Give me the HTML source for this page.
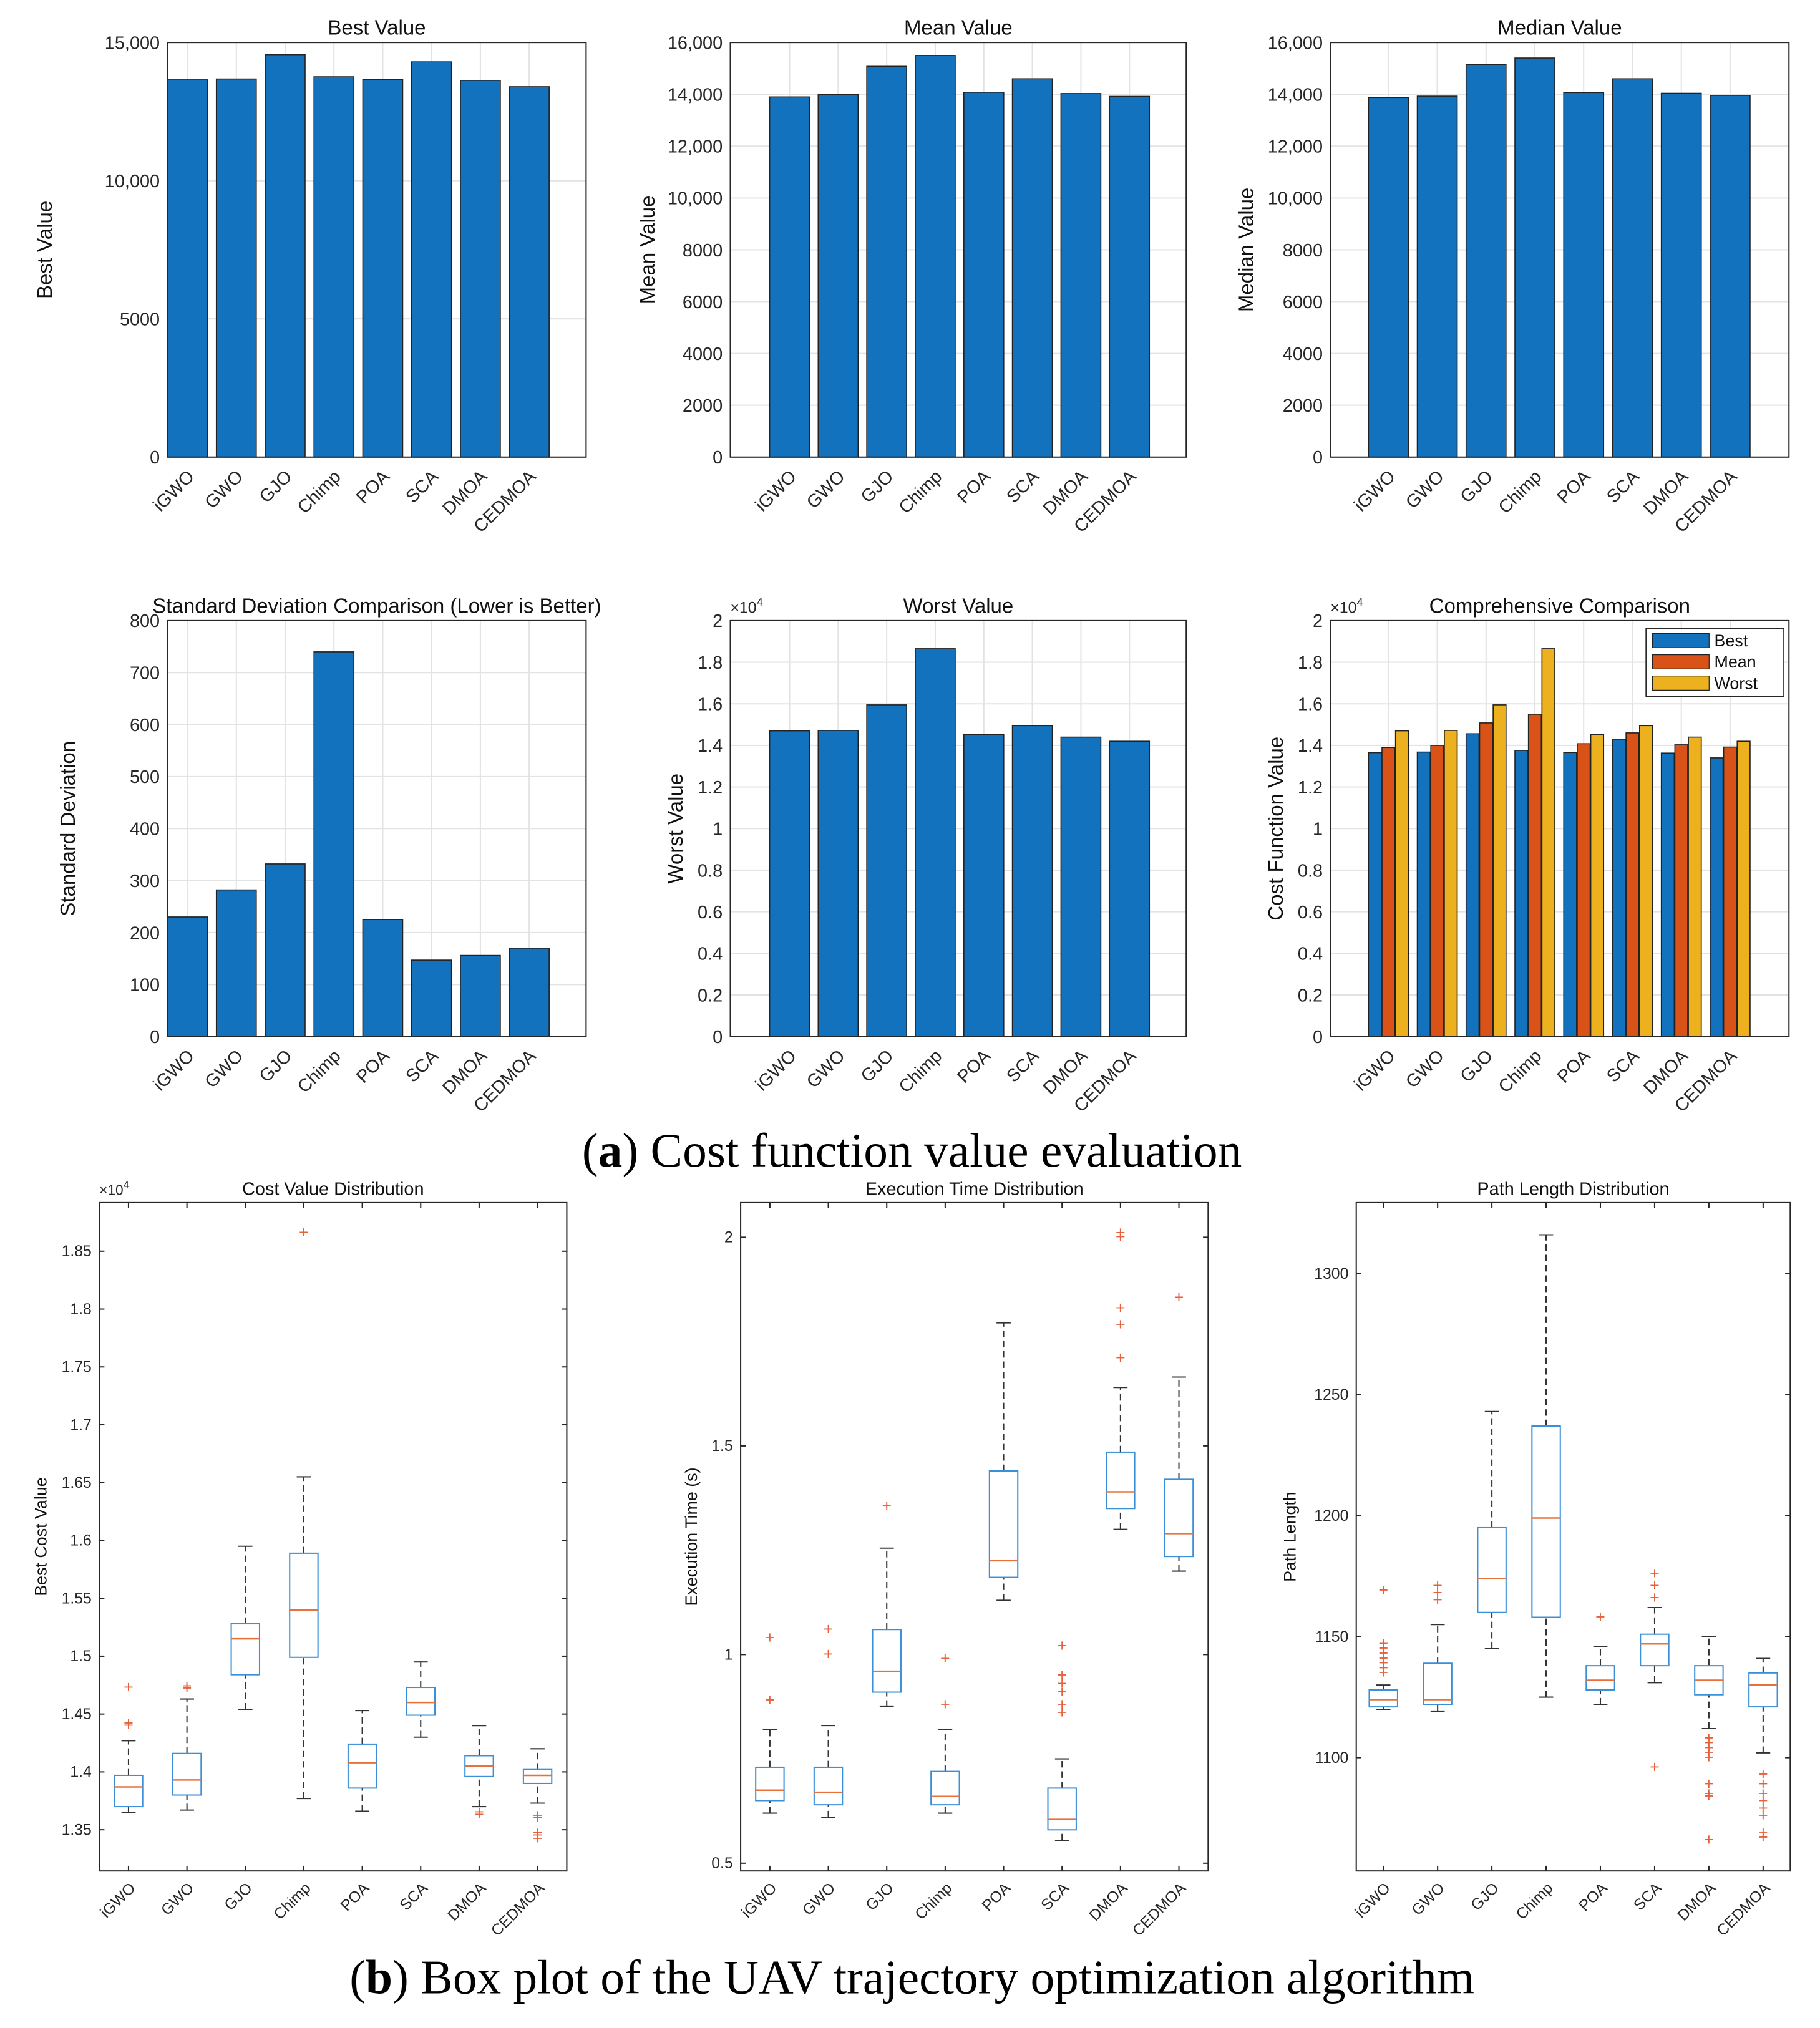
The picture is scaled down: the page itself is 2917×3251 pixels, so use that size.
<!DOCTYPE html>
<html><head><meta charset="utf-8">
<style>
html,body{margin:0;padding:0;background:#fff;}
svg{display:block;font-family:"Liberation Sans",Arial,sans-serif;}
</style></head>
<body>
<svg id="fig" width="2917" height="3251" viewBox="0 0 1413 1575" xmlns="http://www.w3.org/2000/svg">
<rect width="1413" height="1575" fill="#fff"/>
<text x="708" y="906" text-anchor="middle" font-family="Liberation Serif,serif" font-size="37.5">(<tspan font-weight="bold">a</tspan>) Cost function value evaluation</text>
<text x="708" y="1548" text-anchor="middle" font-family="Liberation Serif,serif" font-size="37.5">(<tspan font-weight="bold">b</tspan>) Box plot of the UAV trajectory optimization algorithm</text>
</svg>
<script>
const categories=["iGWO","GWO","GJO","Chimp","POA","SCA","DMOA","CEDMOA"];
const bestVals=[13650,13680,14560,13760,13660,14300,13630,13400];
const meanVals=[13900,14000,15080,15500,14080,14600,14030,13920];
const medianVals=[13880,13930,15150,15400,14070,14600,14040,13960];
const stdVals=[230,282,332,740,225,147,156,170];
const worstVals=[14700,14720,15950,18650,14520,14950,14400,14200];
const bestTicks=["0","5000","10,000","15,000"];
const meanTicks=["0","2000","4000","6000","8000","10,000","12,000","14,000","16,000"];
const stdTicks=["0","100","200","300","400","500","600","700","800"];
const e4Ticks=["0","0.2","0.4","0.6","0.8","1","1.2","1.4","1.6","1.8","2"];
// box stats: [lowWhisker,q1,median,q3,highWhisker]
const costBoxes=[[1.365,1.370,1.387,1.397,1.427],[1.367,1.380,1.393,1.416,1.463],[1.454,1.484,1.515,1.528,1.595],[1.377,1.499,1.540,1.589,1.655],[1.366,1.386,1.408,1.424,1.453],[1.430,1.449,1.460,1.473,1.495],[1.370,1.396,1.405,1.414,1.440],[1.373,1.390,1.397,1.402,1.420]];
const costOut=[[1.473,1.442,1.440],[1.474,1.472],[],[1.866],[],[],[1.365,1.363],[1.362,1.360,1.347,1.345,1.342]];
const costTicks=[1.35,1.4,1.45,1.5,1.55,1.6,1.65,1.7,1.75,1.8,1.85];
const timeBoxes=[[0.62,0.65,0.675,0.73,0.82],[0.61,0.64,0.67,0.73,0.83],[0.875,0.91,0.96,1.06,1.255],[0.62,0.64,0.66,0.72,0.82],[1.13,1.185,1.225,1.44,1.795],[0.555,0.58,0.605,0.68,0.75],[1.3,1.35,1.39,1.485,1.64],[1.2,1.235,1.29,1.42,1.665]];
const timeOut=[[0.89,1.04],[1.0,1.06],[1.355],[0.88,0.99],[],[0.86,0.88,0.91,0.93,0.95,1.02],[1.71,1.79,1.83,2.0,2.01],[1.855]];
const timeTicks=[0.5,1,1.5,2];
const pathBoxes=[[1120,1121,1124,1128,1130],[1119,1122,1124,1139,1155],[1145,1160,1174,1195,1243],[1125,1158,1199,1237,1316],[1122,1128,1132,1138,1146],[1131,1138,1147,1151,1162],[1112,1126,1132,1138,1150],[1102,1121,1130,1135,1141]];
const pathOut=[[1135,1137,1139,1141,1143,1145,1147,1169],[1165,1168,1171],[],[],[1158],[1096,1166,1171,1176],[1066,1084,1085,1089,1100,1102,1104,1106,1108],[1067,1069,1076,1079,1082,1085,1089,1093]];
const pathTicks=[1100,1150,1200,1250,1300];

const NS="http://www.w3.org/2000/svg";
const svg=document.getElementById("fig");
function mk(tag,attrs,parent,txt){const e=document.createElementNS(NS,tag);for(const k in attrs)e.setAttribute(k,attrs[k]);if(txt!==undefined)e.textContent=txt;(parent||svg).appendChild(e);return e;}

function barChart(o){
  const g=mk("g",{});
  
  
  const {x0,x1,y0,y1,ymax}=o;
  const ys=v=>y1-(v/ymax)*(y1-y0);
  const xs=i=>o.c0+i*o.sp;
  mk("rect",{x:x0,y:y0,width:x1-x0,height:y1-y0,fill:"#fff"},g);
  o.ticks.forEach((t,i)=>{const v=i*o.tstep;const y=ys(v);
    mk("line",{x1:x0,x2:x1,y1:y,y2:y,stroke:"#e3e3e3","stroke-width":1},g);
    const tl=mk("text",{x:x0-6,y:y+5,"text-anchor":"end","font-size":14,fill:"#262626"},g,t);
    
    });
  categories.forEach((c,i)=>{const x=xs(i);
    mk("line",{x1:x,x2:x,y1:y0,y2:y1,stroke:"#e3e3e3","stroke-width":1},g);});
  const series=o.series;const cols=o.colors;const n=series.length;const bw=o.bw;
  categories.forEach((c,i)=>{series.forEach((s,k)=>{
    const cx=xs(i)+(k-(n-1)/2)*bw*1.05;
    const b=mk("rect",{x:cx-bw/2,y:ys(s[i]),width:bw,height:y1-ys(s[i]),fill:cols[k],stroke:"#222","stroke-width":0.8},g);
    
    });
    const tl=mk("text",{"text-anchor":"end","font-size":14,fill:"#262626",transform:`translate(${xs(i)+6},${y1+16}) rotate(-45)`},g,c);
    
    });
  mk("rect",{x:x0,y:y0,width:x1-x0,height:y1-y0,fill:"none",stroke:"#262626","stroke-width":1},g);
  const t=mk("text",{x:(x0+x1)/2,y:y0-6,"text-anchor":"middle","font-size":16,fill:"#111"},g,o.title);
  
  
  const yl=mk("text",{"text-anchor":"middle","font-size":16,fill:"#111",transform:`translate(${o.ylx},${(y0+y1)/2}) rotate(-90)`},g,o.ylabel);
  
  
  if(o.exp){const ex=mk("text",{x:x0,y:y0-6,"font-size":12,fill:"#262626"},g);ex.innerHTML='×10<tspan dy="-5" font-size="9">4</tspan>';
    
    }
  if(o.legend){const lg=mk("g",{},g);
    
    
    mk("rect",{x:x1-111,y:y0+6,width:107,height:53,fill:"#fff",stroke:"#262626","stroke-width":0.8},lg);
    o.legend.forEach((l,k)=>{mk("rect",{x:x1-106,y:y0+10+k*16.5,width:44,height:11,fill:cols[k],stroke:"#222","stroke-width":0.6},lg);
      const e=mk("text",{x:x1-58,y:y0+20+k*16.5,"font-size":13,fill:"#111"},lg,l);
      
      });}
}
const B="#1372BD",O="#D95319",Y="#EDB120";
barChart({name:"best-value-chart",x0:130,x1:455,y0:33,y1:355,ymax:15000,tstep:5000,ticks:bestTicks,c0:145.5,sp:37.9,bw:31,series:[bestVals],colors:[B],title:"Best Value",ylabel:"Best Value",ylx:40});
barChart({name:"mean-value-chart",x0:567,x1:921,y0:33,y1:355,ymax:16000,tstep:2000,ticks:meanTicks,c0:613,sp:37.7,bw:31,series:[meanVals],colors:[B],title:"Mean Value",ylabel:"Mean Value",ylx:508});
barChart({name:"median-value-chart",x0:1033,x1:1389,y0:33,y1:355,ymax:16000,tstep:2000,ticks:meanTicks,c0:1078,sp:37.9,bw:31,series:[medianVals],colors:[B],title:"Median Value",ylabel:"Median Value",ylx:973});
barChart({name:"std-chart",x0:130,x1:455,y0:482,y1:805,ymax:800,tstep:100,ticks:stdTicks,c0:145.5,sp:37.9,bw:31,series:[stdVals],colors:[B],title:"Standard Deviation Comparison (Lower is Better)",ylabel:"Standard Deviation",ylx:58});
barChart({name:"worst-value-chart",x0:567,x1:921,y0:482,y1:805,ymax:20000,tstep:2000,ticks:e4Ticks,c0:613,sp:37.7,bw:31,series:[worstVals],colors:[B],title:"Worst Value",ylabel:"Worst Value",ylx:530,exp:true});
barChart({name:"comprehensive-chart",x0:1033,x1:1389,y0:482,y1:805,ymax:20000,tstep:2000,ticks:e4Ticks,c0:1078,sp:37.9,bw:10,series:[bestVals,meanVals,worstVals],colors:[B,O,Y],title:"Comprehensive Comparison",ylabel:"Cost Function Value",ylx:996,exp:true,legend:["Best","Mean","Worst"]});

function boxChart(o){
  const g=mk("g",{});
  
  
  const {x0,x1,y0,y1,ymin,ymax}=o;
  const ys=v=>y1-(v-ymin)/(ymax-ymin)*(y1-y0);
  const sp=(x1-x0)/8;const xs=i=>x0+sp*(i+0.5);
  mk("rect",{x:x0,y:y0,width:x1-x0,height:y1-y0,fill:"none",stroke:"#262626","stroke-width":1},g);
  o.ticks.forEach(v=>{const y=ys(v);
    mk("line",{x1:x0,x2:x0+4,y1:y,y2:y,stroke:"#262626"},g);
    mk("line",{x1:x1,x2:x1-4,y1:y,y2:y,stroke:"#262626"},g);
    const tl=mk("text",{x:x0-6,y:y+4,"text-anchor":"end","font-size":12,fill:"#262626"},g,o.fmt(v));
    
    });
  const bw=22;
  categories.forEach((c,i)=>{const x=xs(i);const s=o.boxes[i];
    mk("line",{x1:x,x2:x,y1:y1,y2:y1-4,stroke:"#262626"},g);
    mk("line",{x1:x,x2:x,y1:y0,y2:y0+4,stroke:"#262626"},g);
    mk("line",{x1:x,x2:x,y1:ys(s[0]),y2:ys(s[1]),stroke:"#333","stroke-dasharray":"5,3"},g);
    mk("line",{x1:x,x2:x,y1:ys(s[3]),y2:ys(s[4]),stroke:"#333","stroke-dasharray":"5,3"},g);
    mk("line",{x1:x-bw/4,x2:x+bw/4,y1:ys(s[0]),y2:ys(s[0]),stroke:"#333"},g);
    mk("line",{x1:x-bw/4,x2:x+bw/4,y1:ys(s[4]),y2:ys(s[4]),stroke:"#333"},g);
    const b=mk("rect",{x:x-bw/2,y:ys(s[3]),width:bw,height:ys(s[1])-ys(s[3]),fill:"none",stroke:"#3A8FD9","stroke-width":1},g);
    
    
    mk("line",{x1:x-bw/2,x2:x+bw/2,y1:ys(s[2]),y2:ys(s[2]),stroke:"#E8703A","stroke-width":1.2},g);
    o.out[i].forEach(v=>{const p=mk("text",{x:x,y:ys(v)+4,"text-anchor":"middle","font-size":13,fill:"#E8603A"},g,"+");
      
      });
    const tl=mk("text",{"text-anchor":"end","font-size":12,fill:"#262626",transform:`translate(${x+6},${y1+14}) rotate(-45)`},g,c);
    
    });
  const t=mk("text",{x:(x0+x1)/2,y:y0-6,"text-anchor":"middle","font-size":14,fill:"#111"},g,o.title);
  
  
  const yl=mk("text",{"text-anchor":"middle","font-size":13,fill:"#111",transform:`translate(${o.ylx},${(y0+y1)/2}) rotate(-90)`},g,o.ylabel);
  
  
  if(o.exp){const ex=mk("text",{x:x0,y:y0-6,"font-size":11,fill:"#262626"},g);ex.innerHTML='×10<tspan dy="-5" font-size="8">4</tspan>';
    
    }
}
boxChart({name:"cost-distribution-chart",x0:77,x1:440,y0:934,y1:1453,ymin:1.3144,ymax:1.892,ticks:costTicks,fmt:v=>String(+v.toFixed(2)),boxes:costBoxes,out:costOut,title:"Cost Value Distribution",ylabel:"Best Cost Value",ylx:36,exp:true});
boxChart({name:"time-distribution-chart",x0:575,x1:938,y0:934,y1:1453,ymin:0.4815,ymax:2.083,ticks:timeTicks,fmt:v=>String(v),boxes:timeBoxes,out:timeOut,title:"Execution Time Distribution",ylabel:"Execution Time (s)",ylx:541});
boxChart({name:"path-distribution-chart",x0:1053,x1:1390,y0:934,y1:1453,ymin:1053.2,ymax:1329.3,ticks:pathTicks,fmt:v=>String(v),boxes:pathBoxes,out:pathOut,title:"Path Length Distribution",ylabel:"Path Length",ylx:1006});
</script>
</body></html>
